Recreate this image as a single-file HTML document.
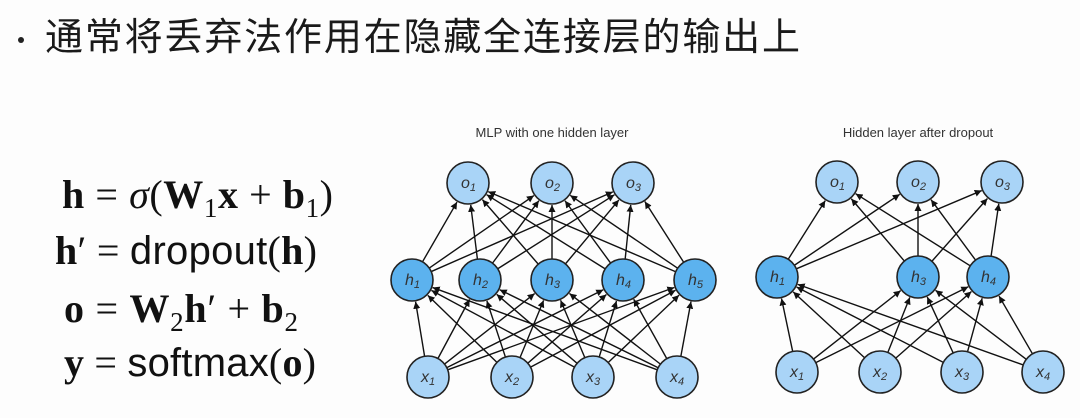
<!DOCTYPE html>
<html><head><meta charset="utf-8"><style>
html,body{margin:0;padding:0;background:#fdfdfd;}
svg{display:block;}
</style></head><body>
<svg id="s" width="1080" height="418" xmlns="http://www.w3.org/2000/svg">
<defs><marker id="a" viewBox="0 0 10 10" refX="10" refY="5" markerWidth="7" markerHeight="7" orient="auto" markerUnits="userSpaceOnUse"><path d="M0,0L10,5L0,10z" fill="#111"/></marker></defs>
<rect width="1080" height="418" fill="#fdfdfd"/>
<circle cx="21" cy="40" r="3" fill="#222"/>
<text x="45" y="50" font-family="'Liberation Sans','Noto Sans CJK SC',sans-serif" font-size="38" fill="#1a1a1a" textLength="755">通常将丢弃法作用在隐藏全连接层的输出上</text>
<g font-family="'Liberation Serif',serif" font-size="40" fill="#111">
<text x="62" y="208" textLength="271"><tspan font-weight="bold">h</tspan> = <tspan font-style="italic">σ</tspan>(<tspan font-weight="bold">W</tspan><tspan font-size="27" dy="9">1</tspan><tspan dy="-9" font-weight="bold">x</tspan> + <tspan font-weight="bold">b</tspan><tspan font-size="27" dy="9">1</tspan><tspan dy="-9">)</tspan></text>
<text x="55" y="264" textLength="262"><tspan font-weight="bold">h</tspan>′ = <tspan font-family="'Liberation Sans',sans-serif">dropout</tspan>(<tspan font-weight="bold">h</tspan>)</text>
<text x="64" y="322" textLength="234"><tspan font-weight="bold">o</tspan> = <tspan font-weight="bold">W</tspan><tspan font-size="27" dy="9">2</tspan><tspan dy="-9" font-weight="bold">h</tspan>′ + <tspan font-weight="bold">b</tspan><tspan font-size="27" dy="9">2</tspan></text>
<text x="64" y="376" textLength="252"><tspan font-weight="bold">y</tspan> = <tspan font-family="'Liberation Sans',sans-serif">softmax</tspan>(<tspan font-weight="bold">o</tspan>)</text>
</g>
<text x="552" y="137" text-anchor="middle" font-family="'Liberation Sans',sans-serif" font-size="13" fill="#333">MLP with one hidden layer</text>
<text x="918" y="137" text-anchor="middle" font-family="'Liberation Sans',sans-serif" font-size="13" fill="#333">Hidden layer after dropout</text>
<g id="g"></g>
</svg>
<script>
var g=document.getElementById('g'),NS='http://www.w3.org/2000/svg',R=21;
function el(t,a){var e=document.createElementNS(NS,t);for(var k in a)e.setAttribute(k,a[k]);g.appendChild(e);return e;}
function edge(p,q){var dx=q[0]-p[0],dy=q[1]-p[1],d=Math.hypot(dx,dy),ux=dx/d,uy=dy/d;
el('line',{x1:p[0]+ux*R,y1:p[1]+uy*R,x2:q[0]-ux*(R+1),y2:q[1]-uy*(R+1),stroke:'#111','stroke-width':1.4,'marker-end':'url(#a)'});}
function node(p,lab,sub,fill){el('circle',{cx:p[0],cy:p[1],r:R,fill:fill,stroke:'#222','stroke-width':1.6});
var t=el('text',{x:p[0]-7,y:p[1]+5,'font-family':'Liberation Sans,sans-serif','font-size':16,'font-style':'italic',fill:'#333'});
t.textContent=lab;var s=document.createElementNS(NS,'tspan');s.setAttribute('font-size',11);s.setAttribute('dy',3);s.textContent=sub;t.appendChild(s);}
function net(O,H,X,hl){X.forEach(function(x){H.forEach(function(h){edge(x,h)})});H.forEach(function(h){O.forEach(function(o){edge(h,o)})});
O.forEach(function(p,i){node(p,'o',i+1,'#a9d4f7')});H.forEach(function(p,i){node(p,'h',hl[i],'#5cb2ee')});X.forEach(function(p,i){node(p,'x',i+1,'#a9d4f7')});}
net([[468,183],[552,183],[633,183]],[[412,280],[480,280],[552,280],[623,280],[695,280]],[[428,377],[512,377],[593,377],[677,377]],[1,2,3,4,5]);
net([[837,182],[918,182],[1002,182]],[[777,277],[918,277],[988,277]],[[797,372],[880,372],[962,372],[1043,372]],[1,3,4]);
</script>
</body></html>
